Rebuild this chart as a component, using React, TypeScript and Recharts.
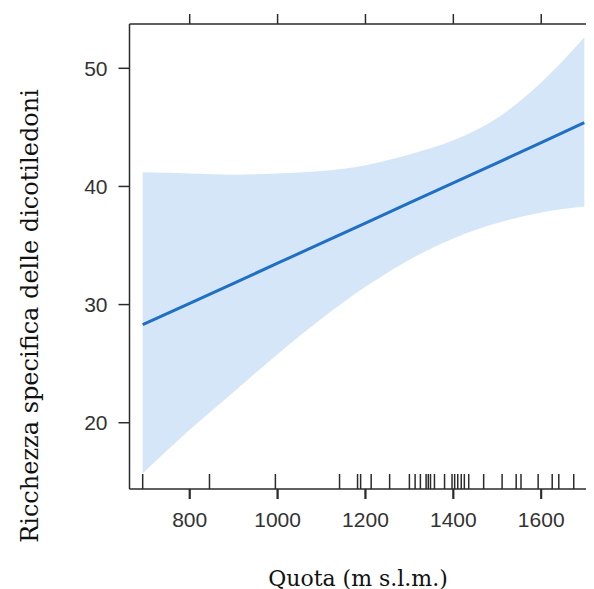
import React from "react";
import {
  ComposedChart,
  Area,
  Line,
  Scatter,
  XAxis,
  YAxis,
} from "recharts";

// Quota (m s.l.m.) sample positions along the fitted effect
const quota = [693, 800, 900, 1000, 1100, 1200, 1300, 1400, 1500, 1600, 1698];
// Fitted richness of dicots
const fitted = [28.3, 30.1, 31.8, 33.5, 35.2, 36.9, 38.6, 40.3, 42.0, 43.7, 45.4];
// Confidence band
const upper = [41.2, 41.1, 41.0, 41.1, 41.3, 41.8, 42.7, 43.9, 45.8, 48.8, 52.6];
const lower = [15.7, 19.4, 22.6, 25.8, 28.8, 31.5, 33.8, 35.6, 36.9, 37.8, 38.3];
// Rug: observed elevations
const rug = [
  693, 845, 995, 1141, 1182, 1189, 1213, 1255, 1300, 1313, 1325, 1338, 1343,
  1348, 1357, 1380, 1397, 1403, 1410, 1418, 1425, 1435, 1469, 1511, 1543, 1554,
  1593, 1625, 1640, 1674,
];
const xTicks = [800, 1000, 1200, 1400, 1600];
const yTicks = [20, 30, 40, 50];

const X_DOMAIN: [number, number] = [663, 1843];
const Y_DOMAIN: [number, number] = [14.39, 53.75];

const data = quota.map((q, i) => ({ x: q, fit: fitted[i], band: [lower[i], upper[i]] }));
const rugData = rug.map((r) => ({ x: r, y: Y_DOMAIN[0] }));
const bottomTickData = xTicks.map((t) => ({ x: t, y: Y_DOMAIN[0] }));

const AXIS = "#2b2b2b";
const FONT = "Liberation Sans, Arial, sans-serif";
const tickFont = { fontFamily: FONT, fontSize: 21, fill: "#333" };
const titleFont = "DejaVu Serif, serif";
const TICK = 10;
const BOTTOM_MARGIN = 13;

const RugMark = (p: any) => (
  <line x1={p.cx} x2={p.cx} y1={p.cy} y2={p.cy - 15} stroke={AXIS} strokeWidth={1.5} />
);

const DownTick = (p: any) => (
  <line x1={p.cx} x2={p.cx} y1={p.cy} y2={p.cy + TICK} stroke={AXIS} strokeWidth={1.8} />
);

// bottom tick: line below the axis + label
const BottomTick = (p: any) => {
  const axisY = p.y - TICK - BOTTOM_MARGIN;
  return (
    <g>
      <line x1={p.x} x2={p.x} y1={axisY} y2={axisY + TICK} stroke={AXIS} strokeWidth={1.8} />
      <text x={p.x} y={p.y} dy="0.71em" textAnchor="middle" fontFamily={FONT} fontSize={21} fill="#333">
        {p.payload.value}
      </text>
    </g>
  );
};

// top tick: only the line, upward from the top border
const TopTick = (p: any) => {
  const axisY = p.y + TICK;
  return <line x1={p.x} x2={p.x} y1={axisY} y2={axisY - TICK} stroke={AXIS} strokeWidth={1.5} />;
};

const XTitle = () => (
  <text x={350} y={570} textAnchor="middle" dominantBaseline="central" fontFamily={titleFont} fontSize={22} fill="#111">
    Quota (m s.l.m.)
  </text>
);
const YTitle = () => (
  <text x={22} y={308} textAnchor="middle" dominantBaseline="central" transform="rotate(-90, 22, 308)" fontFamily={titleFont} fontSize={24} fill="#111">
    Ricchezza specifica delle dicotiledoni
  </text>
);

export default function App() {
  return (
    <div style={{ width: 586, height: 581, overflow: "hidden" }}>
      <ComposedChart width={640} height={581} data={data} margin={{ top: 6, right: 0, bottom: 0, left: 0 }}>
        <XAxis
          dataKey="x"
          type="number"
          domain={X_DOMAIN}
          ticks={xTicks}
          interval={0}
          height={100}
          tickSize={TICK}
          tickMargin={BOTTOM_MARGIN}
          tick={<BottomTick />}
          tickLine={false}
          axisLine={{ stroke: AXIS, strokeWidth: 1.5 }}
          label={<XTitle />}
        />
        <XAxis
          xAxisId="top"
          orientation="top"
          dataKey="x"
          type="number"
          domain={X_DOMAIN}
          ticks={xTicks}
          interval={0}
          height={10}
          tickSize={TICK}
          tickMargin={0}
          tick={<TopTick />}
          tickLine={false}
          axisLine={{ stroke: AXIS, strokeWidth: 1.5 }}
        />
        <YAxis
          type="number"
          domain={Y_DOMAIN}
          ticks={yTicks}
          interval={0}
          width={121.5}
          tickSize={11}
          tickMargin={11}
          tick={tickFont}
          tickLine={{ stroke: AXIS, strokeWidth: 1.5 }}
          axisLine={{ stroke: AXIS, strokeWidth: 1.5 }}
          label={<YTitle />}
        />
        <Area dataKey="band" type="monotone" fill="#d5e6f8" fillOpacity={1} stroke="none" isAnimationActive={false} />
        <Line dataKey="fit" type="linear" stroke="#1f70c4" strokeWidth={3} dot={false} isAnimationActive={false} />
        <Scatter data={rugData} dataKey="y" shape={<RugMark />} isAnimationActive={false} />
        <Scatter data={bottomTickData} dataKey="y" shape={<DownTick />} isAnimationActive={false} />
        <Line xAxisId="top" dataKey="fit" stroke="none" dot={false} activeDot={false} legendType="none" isAnimationActive={false} />
      </ComposedChart>
    </div>
  );
}
